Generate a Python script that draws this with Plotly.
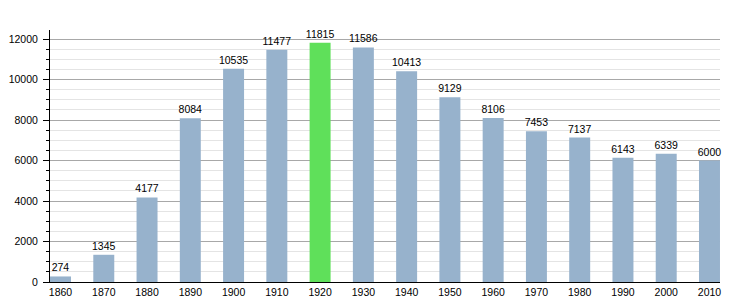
import plotly.graph_objects as go

years = [1860, 1870, 1880, 1890, 1900, 1910, 1920, 1930, 1940, 1950, 1960, 1970, 1980, 1990, 2000, 2010]
population = [274, 1345, 4177, 8084, 10535, 11477, 11815, 11586, 10413, 9129, 8106, 7453, 7137, 6143, 6339, 6000]
highlight_year = 1920
y_ticks = [0, 2000, 4000, 6000, 8000, 10000, 12000]

colors = ["#5fe05a" if y == highlight_year else "#97b2cc" for y in years]

fig = go.Figure(go.Bar(
    x=years, y=population, width=4.85,
    marker=dict(color=colors, line=dict(width=0)),
    text=[str(v) for v in population], textposition="outside",
    textfont=dict(family="Liberation Sans, Arial", size=10.5, color="#000"),
    cliponaxis=False, constraintext="none",
))

fig.update_layout(
    width=750, height=300,
    margin=dict(l=50, r=30, t=30, b=18, autoexpand=False),
    plot_bgcolor="white", paper_bgcolor="white",
    showlegend=False,
    font=dict(family="Liberation Sans, Arial", size=10.5, color="#000"),
    xaxis=dict(
        range=[1857.57, 2012.43], tickvals=years, ticktext=[str(y) for y in years],
        showgrid=False, showline=True, linecolor="#000", linewidth=1,
        ticks="", zeroline=False, fixedrange=True, automargin=False,
        ticklabelstandoff=0,
    ),
    yaxis=dict(
        range=[0, 12450], tickvals=y_ticks, ticktext=[str(t) for t in y_ticks],
        showgrid=True, gridcolor="#a8a8a8", gridwidth=1,
        showline=True, linecolor="#000", linewidth=1,
        ticks="outside", ticklen=6, tickcolor="#000",
        zeroline=False, automargin=False, ticklabelstandoff=3,
        minor=dict(dtick=500, showgrid=True, gridcolor="#e4e4e4", ticks="outside", ticklen=3, tickcolor="#000"),
    ),
)

fig.write_html("out.html")
